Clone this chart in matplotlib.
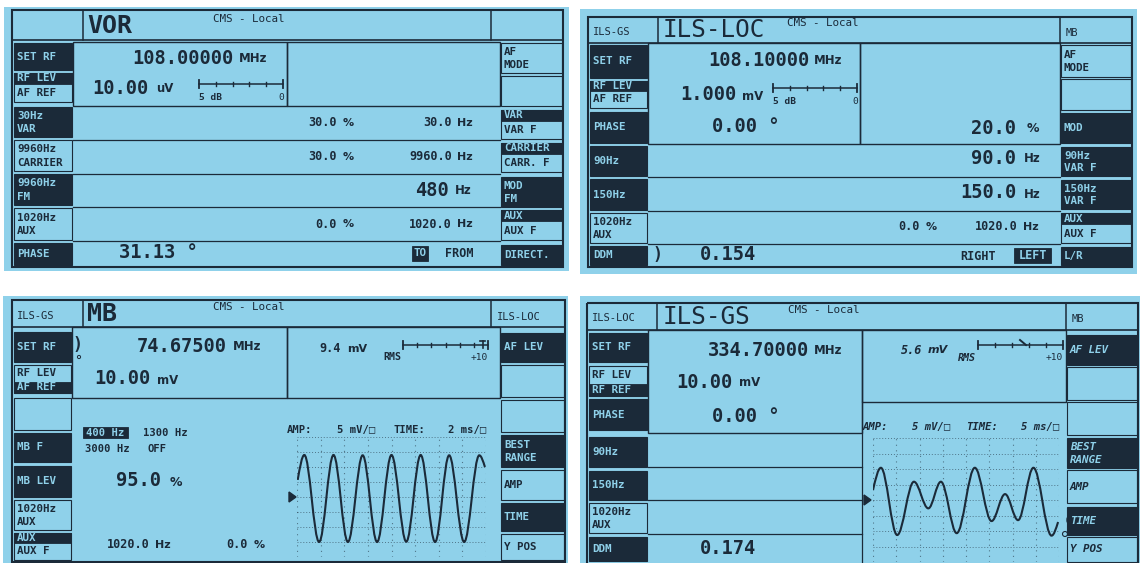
import matplotlib
matplotlib.use("Agg")
import matplotlib.pyplot as plt
from matplotlib.patches import Rectangle, Polygon, PathPatch, Wedge, Circle
from matplotlib.path import Path

W, H = 1140, 563
BG = "#8fd1ea"
INK = "#1b2a39"
MONO = ["DejaVu Sans Mono", "DejaVu Sans"]
SANS = ["DejaVu Sans", "DejaVu Sans Mono"]

# ---- screen contents ----
TITLES = ["VOR", "ILS-LOC", "MB", "ILS-GS"]
TOP_LEFT = ["", "ILS-GS", "ILS-GS", "ILS-LOC"]
TOP_RIGHT = ["", "MB", "ILS-LOC", "MB"]
STATUS = "CMS - Local"

VOR_LEFT = [["SET RF"], ["RF LEV", "AF REF"], ["30Hz", "VAR"], ["9960Hz", "CARRIER"],
            ["9960Hz", "FM"], ["1020Hz", "AUX"], ["PHASE"]]
VOR_LEFT_ON = ["inv", "top", "inv", "off", "inv", "off", "inv"]
VOR_RIGHT = [["AF", "MODE"], [], ["VAR", "VAR F"], ["CARRIER", "CARR. F"], ["MOD", "FM"],
             ["AUX", "AUX F"], ["DIRECT."]]
VOR_RIGHT_ON = ["off", "off", "top", "top", "inv", "top", "inv"]
VOR_RF = "108.00000"
VOR_LEVEL = ["10.00", "uV"]
VOR_PCT = ["30.0", "30.0", "0.0"]        # 30 Hz VAR, 9960 Hz carrier, 1020 Hz aux
VOR_FREQ = ["30.0", "9960.0", "1020.0"]
VOR_FM_DEV = "480"
VOR_PHASE = "31.13"
VOR_DIR = ["TO", "FROM"]

LOC_LEFT = [["SET RF"], ["RF LEV", "AF REF"], ["PHASE"], ["90Hz"], ["150Hz"],
            ["1020Hz", "AUX"], ["DDM"]]
LOC_LEFT_ON = ["inv", "top", "inv", "inv", "inv", "off", "inv"]
LOC_RIGHT = [["AF", "MODE"], [], ["MOD"], ["90Hz", "VAR F"], ["150Hz", "VAR F"],
             ["AUX", "AUX F"], ["L/R"]]
LOC_RIGHT_ON = ["off", "off", "inv", "inv", "inv", "top", "inv"]
LOC_RF = "108.10000"
LOC_LEVEL = ["1.000", "mV"]
LOC_PHASE = "0.00"
LOC_MOD = "20.0"
LOC_TONES = ["90.0", "150.0"]
LOC_AUX = ["0.0", "1020.0"]
LOC_DDM = "0.154"
LOC_SIDE = ["RIGHT", "LEFT"]

SCOPE_LEFT = [["SET RF"], ["RF LEV", "AF REF"], [], ["MB F"], ["MB LEV"],
              ["1020Hz", "AUX"], ["AUX", "AUX F"]]
MB_LEFT_ON = ["inv", "bot", "off", "inv", "inv", "off", "top"]
SCOPE_RIGHT = [["AF LEV"], [], [], ["BEST", "RANGE"], ["AMP"], ["TIME"], ["Y POS"]]
SCOPE_RIGHT_ON = ["inv", "off", "off", "inv", "off", "inv", "off"]
MB_RF = "74.67500"
MB_LEVEL = ["10.00", "mV"]
MB_RMS = "9.4"
MB_FREQS = ["400 Hz", "1300 Hz", "3000 Hz", "OFF"]
MB_DEPTH = "95.0"
MB_AUX = ["1020.0", "0.0"]
MB_SCALE = ["5 mV/\u25a1", "2 ms/\u25a1"]
# scope trace, crests and troughs: time in ms, level in mV
MB_T = [0.06, 0.62, 1.87, 3.09, 4.31, 5.56, 6.78, 8.00, 9.25, 10.47, 11.69, 12.88, 14.15, 15.43, 15.91]
MB_V = [5.7, 14.0, -15.0, 14.0, -15.0, 13.9, -15.0, 14.0, -14.9, 14.0, -15.0, 13.9, -15.0, 13.9, 10.0]

GS_LEFT = [["SET RF"], ["RF LEV", "RF REF"], ["PHASE"], ["90Hz"], ["150Hz"],
           ["1020Hz", "AUX"], ["DDM"]]
GS_LEFT_ON = ["inv", "bot", "inv", "inv", "inv", "off", "inv"]
GS_RF = "334.70000"
GS_LEVEL = ["10.00", "mV"]
GS_PHASE = "0.00"
GS_DDM = "0.174"
GS_RMS = "5.6"
GS_SCALE = ["5 mV/\u25a1", "5 ms/\u25a1"]
GS_T = [0.0, 1.7, 5.2, 8.8, 11.9, 14.6, 18.0, 21.9, 25.5, 28.4, 31.2, 34.5, 38.4, 39.8]
GS_V = [3.2, 10.4, -11.3, 5.9, -2.7, 5.9, -10.7, 10.4, -6.8, 1.9, -6.5, 10.4, -11.5, -7.1]

fig = plt.figure(figsize=(W / 100, H / 100), dpi=100)
ax = fig.add_axes([0, 0, 1, 1])
ax.set_xlim(0, W)
ax.set_ylim(H, 0)
ax.axis("off")


def txt(x, y, s, size=8.5, weight="bold", color=INK, ha="left", family=MONO, style="normal"):
    ax.text(x, y, s, fontsize=size, fontweight=weight, color=color, ha=ha, va="center",
            family=family, fontstyle=style)


def rect(x0, y0, x1, y1, fill=False, lw=1.0, fc=None):
    face = fc if fc else (INK if fill else "none")
    ax.add_patch(Rectangle((x0, y0), x1 - x0, y1 - y0, fc=face, ec=INK, lw=lw))


def hline(y, x0, x1, lw=0.9):
    ax.plot([x0, x1], [y, y], color=INK, lw=lw)


def vline(x, y0, y1, lw=0.9):
    ax.plot([x, x], [y0, y1], color=INK, lw=lw)


def keys(x0, x1, rows, labels, states, italic=False):
    style = "italic" if italic else "normal"
    for (y0, y1), lab, st in zip(rows, labels, states):
        h = y1 - y0
        rect(x0, y0, x1, y1, fill=(st == "inv"), lw=0.8)
        cols = [BG, BG] if st == "inv" else [INK, INK]
        if st == "top":
            rect(x0, y0, x1, y0 + 0.37 * h, fill=True, lw=0.6)
            ys = [y0 + 0.185 * h, y0 + 0.685 * h]
            cols = [BG, INK]
        elif st == "bot":
            rect(x0, y0 + 0.6 * h, x1, y1, fill=True, lw=0.6)
            ys = [y0 + 0.3 * h, y0 + 0.8 * h]
            cols = [INK, BG]
        elif len(lab) == 1:
            ys = [y0 + h / 2]
        else:
            ys = [y0 + 0.3 * h, y0 + 0.73 * h]
        for s, yy, c in zip(lab, ys, cols):
            txt(x0 + 3, yy, s, size=7.8, color=c, style=style)


def header(blue, box, ybar, xl, xr, i, title_xy, title_bold, status_xy, lab_y):
    rect(*blue, fc=BG, lw=0)
    rect(*box, lw=1.5)
    hline(ybar, box[0], box[2], lw=1.2)
    vline(xl, box[1], ybar, lw=1.1)
    vline(xr, box[1], ybar, lw=1.1)
    txt(title_xy[0], title_xy[1], TITLES[i], size=18 if title_bold else 17.5,
        weight="bold" if title_bold else "normal")
    txt(status_xy[0], status_xy[1], STATUS, size=7.8, weight="normal")
    txt(box[0] + 5, lab_y, TOP_LEFT[i], size=7.5, weight="normal")
    txt(xr + 6, lab_y + 1, TOP_RIGHT[i], size=7.5, weight="normal")


def level_scale(x0, x1, y, n):
    ax.plot([x0, x1], [y, y], color=INK, lw=1.1)
    for x in (x0, x1):
        ax.plot([x, x], [y - 4, y + 4], color=INK, lw=1.3)
    for k in range(1, n):
        xx = x0 + (x1 - x0) * k / n
        ax.plot([xx, xx], [y - 1.8, y + 1.8], color=INK, lw=1.0)


def trace_path(t, v, k=0.36):
    # crest-to-trough segments drawn as Bezier arcs with flat tangents at the crests
    verts = [(t[0], v[0])]
    codes = [Path.MOVETO]
    n = len(t)
    for i in range(1, n):
        dt = t[i] - t[i - 1]
        if i == 1:
            c1 = (t[0] + dt / 3, v[0] + (v[1] - v[0]) / 2)
        else:
            c1 = (t[i - 1] + k * dt, v[i - 1])
        if i == n - 1:
            c2 = (t[i] - dt / 3, v[i] + (v[i - 1] - v[i]) / 2)
        else:
            c2 = (t[i] - k * dt, v[i])
        verts += [c1, c2, (t[i], v[i])]
        codes += [Path.CURVE4] * 3
    return Path(verts, codes)


def scope(px0, px1, py0, py1, t, v, tspan, vspan=20.0):
    s = fig.add_axes([px0 / W, 1 - py1 / H, (px1 - px0) / W, (py1 - py0) / H])
    s.set_xlim(0, tspan)
    s.set_ylim(-vspan, vspan)
    s.axis("off")
    for k in range(9):
        s.axhline(-vspan + k * vspan / 4, color=INK, lw=0.7, ls=(0, (1, 2)), alpha=0.55)
        s.axvline(k * tspan / 8, color=INK, lw=0.8, ls=(0, (1, 4)), alpha=0.55)
    s.add_patch(PathPatch(trace_path(t, v), fc="none", ec=INK, lw=1.5))


# ================= VOR (top left) =================
header((4, 7, 569, 271), (12, 10, 563, 267), 40, 83, 491, 0, (87, 26), True, (213, 19), 26)
keys(14, 72, [(43, 70), (73, 102), (107, 137), (140, 171), (174, 205), (208, 240), (243, 265)],
     VOR_LEFT, VOR_LEFT_ON)
keys(501, 562, [(43, 73), (76, 106), (110, 139), (143, 172), (177, 207), (210, 240), (245, 265)],
     VOR_RIGHT, VOR_RIGHT_ON)
rect(73, 42, 287, 106)
rect(287, 42, 500, 106)
for y in (140, 174, 207, 241):
    hline(y, 73, 500)
txt(234, 58, VOR_RF, size=13.5, ha="right")
txt(239, 59, "MHz", size=8.5, family=SANS)
txt(149, 88, VOR_LEVEL[0], size=13.5, ha="right")
txt(156, 89, VOR_LEVEL[1], size=8.5, family=SANS)
level_scale(199, 283, 84, 5)
txt(199, 98, "5 dB", size=6.8)
txt(284, 98, "0", size=6.8, ha="right", weight="normal")
for y, p, f in zip((123, 157, 224), VOR_PCT, VOR_FREQ):
    txt(337, y, p, ha="right")
    txt(343, y, "%", size=8, family=SANS)
    txt(452, y, f, ha="right")
    txt(457, y, "Hz", size=8, family=SANS)
txt(449, 190, VOR_FM_DEV, size=13.5, ha="right")
txt(455, 191, "Hz", size=8.5, family=SANS)
txt(119, 253, VOR_PHASE + " \u00b0", size=13.5)
rect(412, 246, 428, 261, fill=True, lw=0.6)
txt(420, 253.5, VOR_DIR[0], size=7.8, color=BG, ha="center")
txt(445, 253.5, VOR_DIR[1], size=8.5)

# ================= ILS-LOC (top right) =================
header((580, 9, 1137, 274), (588, 17, 1132, 267), 43, 658, 1060, 1, (663, 30), False, (787, 23), 32)
keys(590, 647, [(45, 78), (81, 108), (112, 143), (146, 176), (179, 210), (213, 243), (246, 265)],
     LOC_LEFT, LOC_LEFT_ON)
keys(1061, 1131, [(45, 77), (79, 110), (113, 143), (147, 176), (180, 209), (213, 243), (247, 265)],
     LOC_RIGHT, LOC_RIGHT_ON)
rect(648, 43, 860, 144)
rect(860, 43, 1060, 144)
for y in (177, 211, 244):
    hline(y, 648, 1060)
txt(809, 60, LOC_RF, size=13.5, ha="right")
txt(814, 61, "MHz", size=8.5, family=SANS)
txt(736, 95, LOC_LEVEL[0], size=13.5, ha="right")
txt(742, 96, LOC_LEVEL[1], size=8.5, family=SANS)
level_scale(773, 857, 88, 5)
txt(773, 102, "5 dB", size=6.8)
txt(858, 102, "0", size=6.8, ha="right", weight="normal")
txt(712, 126, LOC_PHASE + " \u00b0", size=13.5)
txt(1016, 128, LOC_MOD, size=13.5, ha="right")
txt(1027, 129, "%", size=9, family=SANS)
for y, v in zip((158, 193), LOC_TONES):
    txt(1016, y, v, size=13.5, ha="right")
    txt(1024, y + 1, "Hz", size=8.5, family=SANS)
txt(920, 227, LOC_AUX[0], ha="right")
txt(926, 227, "%", size=8, family=SANS)
txt(1018, 227, LOC_AUX[1], ha="right")
txt(1023, 227, "Hz", size=8, family=SANS)
txt(652, 255, ")", size=12)
txt(700, 255, LOC_DDM, size=13.5)
txt(960, 256, LOC_SIDE[0], size=8.5)
rect(1014, 248, 1051, 263, fill=True, lw=0.6)
txt(1032.5, 255.5, LOC_SIDE[1], size=8.5, color=BG, ha="center")

# ================= MB (bottom left) =================
header((3, 296, 568, 563), (12, 300, 565, 562), 327, 83, 491, 2, (87, 314), True, (213, 307), 316)
keys(14, 71, [(332, 362), (365, 393), (398, 430), (433, 462), (466, 497), (500, 530), (533, 560)],
     SCOPE_LEFT, MB_LEFT_ON)
keys(501, 564, [(333, 362), (365, 397), (400, 432), (435, 467), (470, 500), (503, 531), (534, 560)],
     SCOPE_RIGHT, SCOPE_RIGHT_ON)
rect(72, 327, 287, 398)
rect(287, 327, 500, 398)
txt(72, 345, ")", size=12)
ax.add_patch(Circle((79, 357), 1.6, fc="none", ec=INK, lw=0.7))
txt(227, 346, MB_RF, size=13.5, ha="right")
txt(233, 347, "MHz", size=8.5, family=SANS)
txt(150, 379, MB_LEVEL[0], size=13.5, ha="right")
txt(157, 380, MB_LEVEL[1], size=8.5, family=SANS)
txt(341, 349, MB_RMS, ha="right")
txt(347, 349, "mV", size=8, family=SANS)
txt(383, 357, "RMS", size=7.2)
level_scale(403, 488, 345, 6)
ax.plot([480, 485], [341, 341], color=INK, lw=1.2)
ax.plot([482.5, 482.5], [341, 348], color=INK, lw=1.2)
txt(488, 358, "+10", size=6.8, ha="right", weight="normal")
rect(83, 427, 128, 437.5, fill=True, lw=0.6)
txt(105.5, 432.5, MB_FREQS[0], size=7.6, color=BG, ha="center")
txt(143, 432.5, MB_FREQS[1], size=7.6)
txt(85, 449, MB_FREQS[2], size=7.6)
txt(147, 449, MB_FREQS[3], size=7.6)
txt(161, 481, MB_DEPTH, size=13.5, ha="right")
txt(170, 482, "%", size=9, family=SANS)
txt(150, 545, MB_AUX[0], ha="right")
txt(155, 545, "Hz", size=8, family=SANS)
txt(248, 545, MB_AUX[1], ha="right")
txt(254, 545, "%", size=8, family=SANS)
txt(287, 430, "AMP:", size=7.6)
txt(337, 430, MB_SCALE[0], size=7.6)
txt(393, 430, "TIME:", size=7.6)
txt(448, 430, MB_SCALE[1], size=7.6)
ax.add_patch(Polygon([(289, 492), (289, 502), (296, 497)], closed=True, fc=INK, ec=INK))
scope(297, 486, 437, 557, MB_T, MB_V, 16.0)

# ================= ILS-GS (bottom right) =================
header((580, 296, 1140, 563), (587, 303, 1138, 566), 330, 657, 1066, 3, (663, 317), False, (788, 310), 318)
keys(589, 647, [(333, 362), (366, 396), (399, 430), (437, 467), (471, 500), (503, 533), (537, 561)],
     GS_LEFT, GS_LEFT_ON)
keys(1067, 1137, [(335, 365), (367, 400), (402, 435), (438, 468), (470, 503), (507, 535), (537, 562)],
     SCOPE_RIGHT, SCOPE_RIGHT_ON, italic=True)
rect(648, 330, 862, 433)
rect(862, 330, 1066, 402)
for y in (467, 500, 534):
    hline(y, 648, 862)
vline(862, 402, 563)
txt(809, 350, GS_RF, size=13.5, ha="right")
txt(814, 351, "MHz", size=8.5, family=SANS)
txt(732, 382, GS_LEVEL[0], size=13.5, ha="right")
txt(739, 383, GS_LEVEL[1], size=8.5, family=SANS)
txt(712, 416, GS_PHASE + " \u00b0", size=13.5)
txt(700, 548, GS_DDM, size=13.5)
txt(922, 350, GS_RMS, ha="right", style="italic")
txt(928, 350, "mV", size=8, family=SANS, style="italic")
txt(958, 358, "RMS", size=7.2, style="italic")
level_scale(978, 1063, 345, 5)
ax.plot([1020, 1026], [340, 345], color=INK, lw=1.4)
txt(1063, 358, "+10", size=6.8, ha="right", weight="normal")
txt(863, 427, "AMP:", size=7.6, style="italic")
txt(912, 427, GS_SCALE[0], size=7.6, style="italic")
txt(966, 427, "TIME:", size=7.6, style="italic")
txt(1021, 427, GS_SCALE[1], size=7.6, style="italic")
ax.add_patch(Polygon([(864, 495), (864, 505), (871, 500)], closed=True, fc=INK, ec=INK))
ax.add_patch(Wedge((1074, 520), 7, 90, 270, fc=INK, ec=INK))
ax.add_patch(Circle((1065, 534), 2.5, fc="none", ec=INK, lw=0.8))
scope(873, 1059, 438, 562, GS_T, GS_V, 40.0)

fig.savefig("out.png", dpi=100, facecolor="white")
